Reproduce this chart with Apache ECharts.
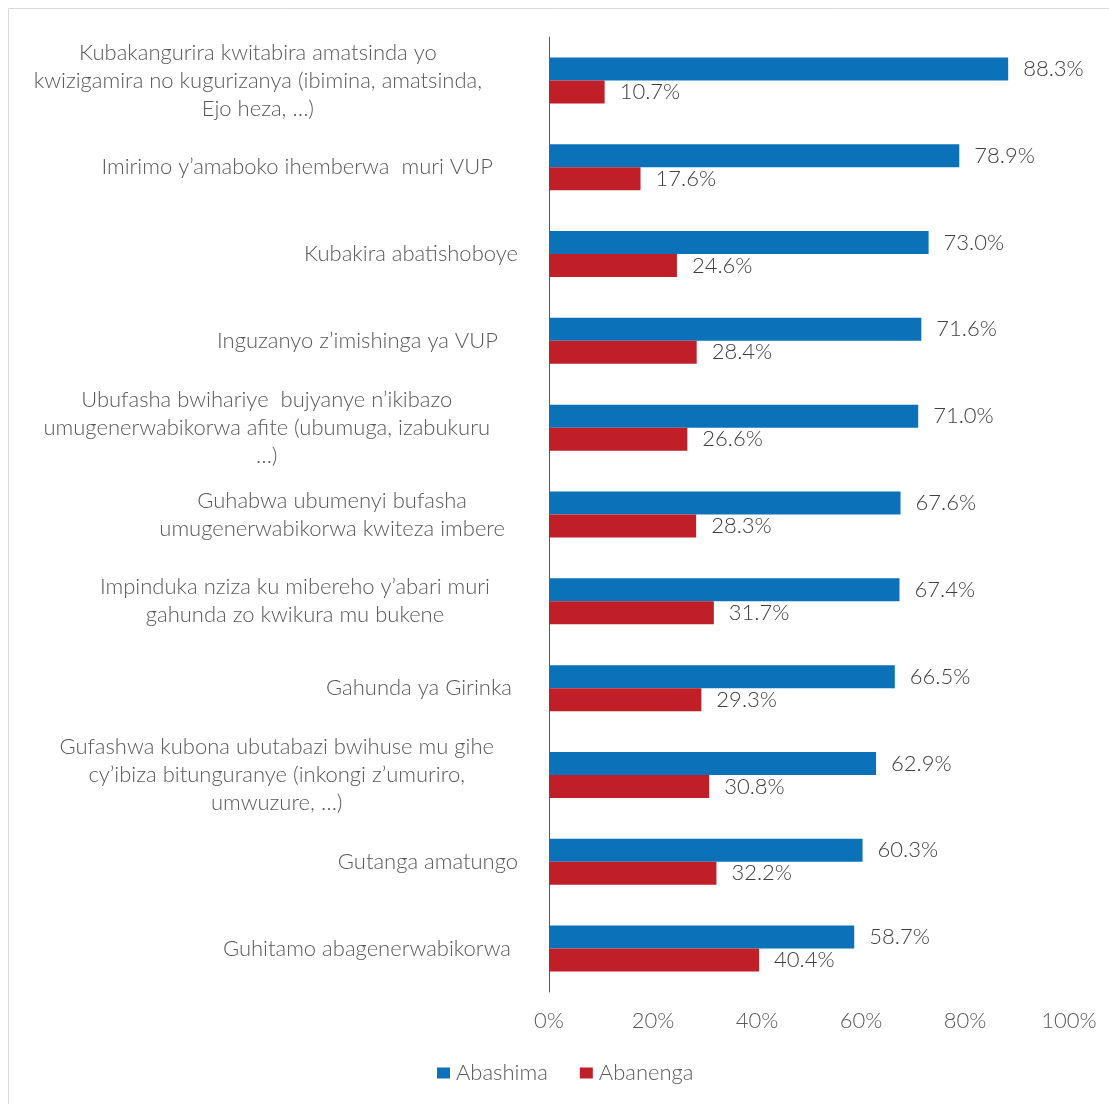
<!DOCTYPE html>
<html>
<head>
<meta charset="utf-8">
<script src="https://cdn.jsdelivr.net/npm/echarts@6/dist/echarts.min.js"></script>
<style>
  html, body { margin: 0; padding: 0; background: #fff; }
  #chart { width: 1109px; height: 1104px; }
</style>
</head>
<body>
<div id="chart"></div>
<script>
const categories = [
  "Kubakangurira kwitabira amatsinda yo\nkwizigamira no kugurizanya (ibimina, amatsinda,\nEjo heza, …)",
  "Imirimo y’amaboko ihemberwa  muri VUP",
  "Kubakira abatishoboye",
  "Inguzanyo z’imishinga ya VUP",
  "Ubufasha bwihariye  bujyanye n’ikibazo\numugenerwabikorwa afite (ubumuga, izabukuru\n…)",
  "Guhabwa ubumenyi bufasha\numugenerwabikorwa kwiteza imbere",
  "Impinduka nziza ku mibereho y’abari muri\ngahunda zo kwikura mu bukene",
  "Gahunda ya Girinka",
  "Gufashwa kubona ubutabazi bwihuse mu gihe\ncy’ibiza bitunguranye (inkongi z’umuriro,\numwuzure, …)",
  "Gutanga amatungo",
  "Guhitamo abagenerwabikorwa"
];
const seriesNames = ["Abashima", "Abanenga"];
const abashima = [88.3, 78.9, 73.0, 71.6, 71.0, 67.6, 67.4, 66.5, 62.9, 60.3, 58.7];
const abanenga = [10.7, 17.6, 24.6, 28.4, 26.6, 28.3, 31.7, 29.3, 30.8, 32.2, 40.4];
const xTicks = [0, 20, 40, 60, 80, 100];

// layout tuning (pixel gaps to the right of each category label block)
const labelGaps = [36, 25, 0, 20, 28, 13, 28, 6, 24, 0, 7];

const FS = 22;
const rich = {};
labelGaps.forEach(function (g, i) {
  rich['g' + i] = { align: 'center', padding: [0, g, 0, 0], fontSize: FS, lineHeight: 28,
    fontFamily: 'Lato', fontWeight: 300, color: '#595959' };
});

const chart = echarts.init(document.getElementById('chart'), null, { renderer: 'canvas' });
const textColor = '#595959';
const font = 'Lato';

chart.setOption({
  backgroundColor: '#ffffff',
  animation: false,
  textStyle: { fontFamily: font },
  graphic: [{
    type: 'polyline',
    shape: { points: [[8.5, 1104], [8.5, 8.5], [1109, 8.5]] },
    style: { stroke: '#d9d9d9', lineWidth: 1, fill: null },
    silent: true
  }],
  grid: { left: 549, right: 40, top: 37, bottom: 112, containLabel: false },
  legend: {
    data: seriesNames,
    bottom: 15,
    left: 432,
    icon: 'rect',
    itemWidth: 13,
    itemHeight: 11,
    itemGap: 32,
    textStyle: { fontFamily: font, fontWeight: 300, fontSize: FS, color: textColor, padding: [0, 0, 0, 1] }
  },
  xAxis: {
    type: 'value',
    min: 0,
    max: 100,
    interval: 20,
    axisLine: { show: false },
    axisTick: { show: false },
    splitLine: { show: false },
    axisLabel: {
      margin: 18,
      fontFamily: font, fontWeight: 300, fontSize: FS, color: textColor,
      formatter: function (v) { return xTicks.indexOf(v) >= 0 ? v + '%' : ''; }
    }
  },
  yAxis: {
    type: 'category',
    inverse: true,
    data: categories,
    axisLine: { show: true, lineStyle: { color: '#595959', width: 1 } },
    axisTick: { show: false },
    axisLabel: {
      margin: 31,
      align: 'right',
      fontFamily: font, fontWeight: 300, fontSize: FS, lineHeight: 28, color: textColor,
      rich: rich,
      formatter: function (v, idx) {
        return v.split('\n').map(function (l) { return '{g' + idx + '|' + l + '}'; }).join('\n');
      }
    }
  },
  series: [
    {
      name: seriesNames[0],
      type: 'bar',
      data: abashima,
      barWidth: 23,
      barGap: '0%',
      itemStyle: { color: '#0B72BA' },
      label: {
        show: true, position: 'right', distance: 15,
        fontFamily: font, fontWeight: 300, fontSize: FS, color: '#404040',
        formatter: function (p) { return p.value.toFixed(1) + '%'; }
      }
    },
    {
      name: seriesNames[1],
      type: 'bar',
      data: abanenga,
      barWidth: 23,
      barGap: '0%',
      itemStyle: { color: '#C01F27' },
      label: {
        show: true, position: 'right', distance: 15,
        fontFamily: font, fontWeight: 300, fontSize: FS, color: '#404040',
        formatter: function (p) { return p.value.toFixed(1) + '%'; }
      }
    }
  ]
});
</script>
</body>
</html>
